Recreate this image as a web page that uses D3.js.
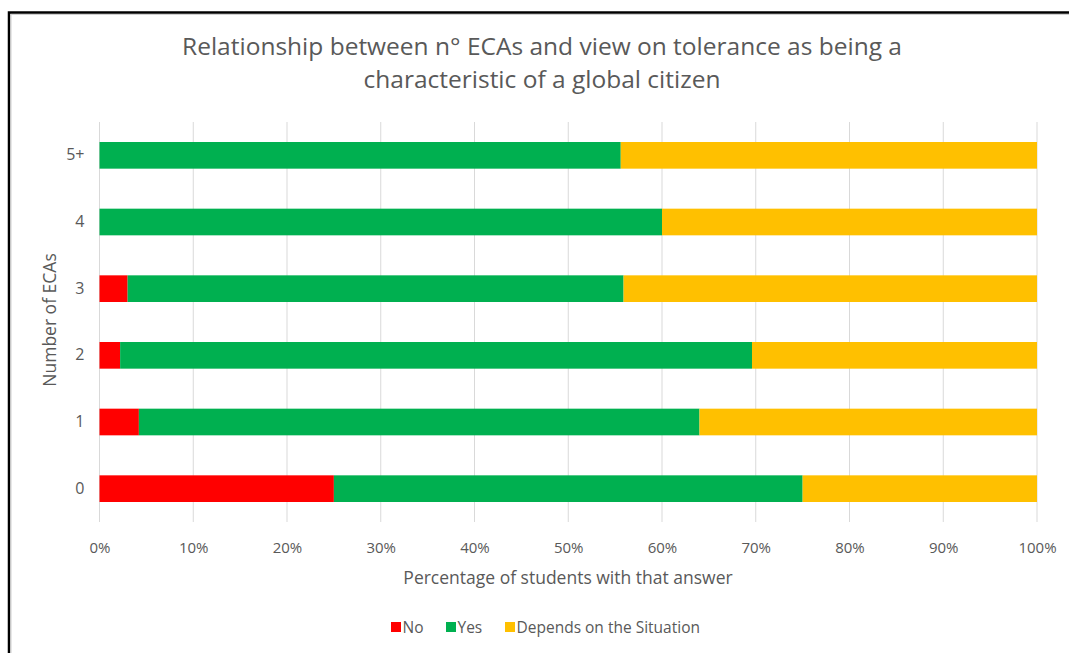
<!DOCTYPE html>
<html>
<head>
<meta charset="utf-8">
<script src="https://cdn.jsdelivr.net/npm/d3@7"></script>
<style>
  html, body { margin: 0; padding: 0; background: #fff; }
  svg { display: block; font-family: "Open Sans", "DejaVu Sans", sans-serif; }
</style>
</head>
<body>
<svg id="chart" width="1069" height="653"></svg>
<script>
// Number of extracurricular activities (ECAs), top row first
const categories = ["5+", "4", "3", "2", "1", "0"];
// Share of students (%) giving each answer
const noValues = [0, 0, 3.0, 2.2, 4.2, 25];
const yesValues = [55.6, 60, 52.9, 67.4, 59.8, 50];
const dependsValues = [44.4, 40, 44.1, 30.4, 36.0, 25];
const seriesNames = ["No", "Yes", "Depends on the Situation"];
const seriesColors = ["#ff0000", "#00b050", "#ffc000"];
const xTicks = [0, 10, 20, 30, 40, 50, 60, 70, 80, 90, 100];

const rows = categories.map((c, i) => ({
  cat: c, No: noValues[i], Yes: yesValues[i], "Depends on the Situation": dependsValues[i]
}));
const stacked = d3.stack().keys(seriesNames)(rows);

const svg = d3.select("#chart");

// outer frame
svg.append("rect").attr("x", 9).attr("y", 12.5).attr("width", 1080).attr("height", 700)
  .attr("fill", "#fff").attr("stroke", "#000").attr("stroke-width", 2.5);
svg.append("rect").attr("x", 11).attr("y", 14.5).attr("width", 1080).attr("height", 700)
  .attr("fill", "none").attr("stroke", "#d0d0d0").attr("stroke-width", 1);

const plot = { left: 99.5, right: 1037, top: 122, bottom: 522 };
const x = d3.scaleLinear().domain([0, 100]).range([plot.left, plot.right]);
const y = d3.scaleBand().domain(categories).range([plot.top, plot.bottom]).paddingInner(0.6).paddingOuter(0.3);

// vertical gridlines
svg.append("g").selectAll("line").data(xTicks).join("line")
  .attr("x1", d => x(d)).attr("x2", d => x(d))
  .attr("y1", plot.top).attr("y2", plot.bottom)
  .attr("stroke", "#d9d9d9").attr("stroke-width", 1);

// stacked bars
svg.append("g").selectAll("g").data(stacked).join("g")
  .attr("fill", (d, i) => seriesColors[i])
  .selectAll("rect").data(d => d).join("rect")
  .attr("x", d => x(d[0]))
  .attr("width", d => x(d[1]) - x(d[0]))
  .attr("y", d => y(d.data.cat))
  .attr("height", y.bandwidth());

// x axis tick labels
const xAxis = d3.axisBottom(x).tickValues(xTicks).tickFormat(d => d + "%").tickSize(0).tickPadding(0);
const gx = svg.append("g").attr("transform", `translate(0, ${plot.bottom + 20})`).call(xAxis);
gx.select(".domain").remove();
gx.selectAll("text").attr("fill", "#595959").attr("font-size", 15)
  .attr("font-family", "Open Sans, sans-serif");

// y axis tick labels
const yAxis = d3.axisLeft(y).tickSize(0).tickPadding(0);
const gy = svg.append("g").attr("transform", `translate(${plot.left - 15}, 0)`).call(yAxis);
gy.select(".domain").remove();
gy.selectAll("text").attr("fill", "#595959").attr("font-size", 16)
  .attr("font-family", "Open Sans, sans-serif");

// title
const title = svg.append("text").attr("text-anchor", "middle").attr("fill", "#595959")
  .attr("font-size", 24.5);
title.append("tspan").attr("x", 542).attr("y", 55).text("Relationship between n° ECAs and view on tolerance as being a");
title.append("tspan").attr("x", 542).attr("y", 88).text("characteristic of a global citizen");

// axis titles
svg.append("text").attr("x", 568).attr("y", 584).attr("text-anchor", "middle")
  .attr("fill", "#595959").attr("font-size", 17.5).text("Percentage of students with that answer");
svg.append("text").attr("transform", "translate(56, 320) rotate(-90)").attr("text-anchor", "middle")
  .attr("fill", "#595959").attr("font-size", 17.5).text("Number of ECAs");

// legend
const legendX = [391, 446, 505];
const lg = svg.append("g").selectAll("g").data(seriesNames).join("g")
  .attr("transform", (d, i) => `translate(${legendX[i]}, 627)`);
lg.append("rect").attr("x", 0).attr("y", -5).attr("width", 10).attr("height", 10)
  .attr("fill", (d, i) => seriesColors[i]);
lg.append("text").attr("x", 11.5).attr("y", 5.5).attr("fill", "#595959").attr("font-size", 15.5).text(d => d);
</script>
</body>
</html>
